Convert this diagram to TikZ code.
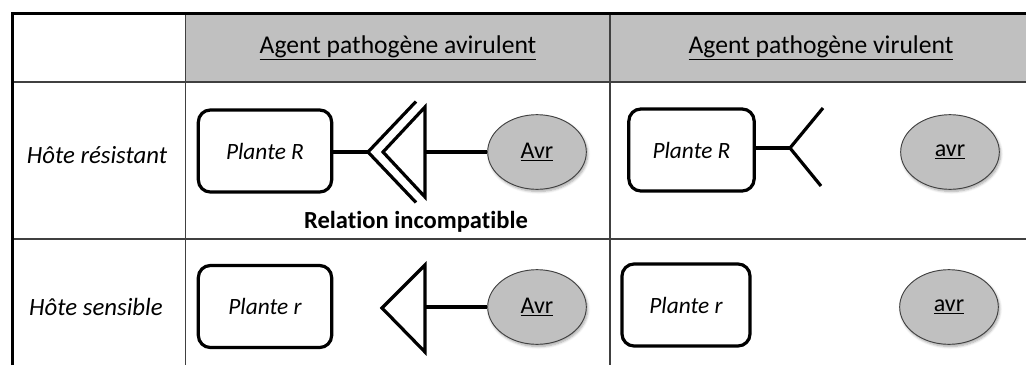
\documentclass[tikz,border=0pt]{standalone}
\usepackage{fontspec}
\setmainfont{Carlito}[Ligatures=NoCommon]
\usetikzlibrary{shapes.geometric,shadows.blur}
\definecolor{hdrgray}{HTML}{C0C0C0}
\definecolor{ellgray}{HTML}{C0C0C0}
\definecolor{rule}{HTML}{404040}
\tikzset{
  plantbox/.style={draw=black, line width=2.4pt, rounded corners=9pt, fill=white,
    minimum height=61.5pt, inner sep=0pt, font=\fontsize{17.5}{20}\selectfont\itshape},
  pathell/.style={ellipse, draw=rule, line width=0.7pt, fill=ellgray,
    minimum width=74pt, minimum height=56pt, inner sep=0pt,
    font=\fontsize{18}{20}\selectfont,
    blur shadow={shadow blur steps=6, shadow xshift=1pt, shadow yshift=-1.6pt, shadow opacity=35}},
  link/.style={line width=2.4pt, line cap=butt},
  glyph/.style={line width=2.4pt, line join=miter},
  hdr/.style={font=\fontsize{19.2}{22}\selectfont},
  rowlab/.style={font=\fontsize{18.6}{21}\selectfont\itshape},
  tline/.style={draw=rule, line width=1.2pt},
}
\begin{document}
\begin{tikzpicture}[x=0.75pt,y=-0.75pt]
\useasboundingbox (0,0) rectangle (1026,365);
% header background
\fill[hdrgray] (186,15) rectangle (1026,82);
% table rules
\draw[tline] (12,82) -- (1026,82);
\draw[tline] (12,239) -- (1026,239);
\draw[tline] (185.5,14) -- (185.5,365);
\draw[tline] (610,14) -- (610,365);
\draw[line width=2.4pt] (12.5,365) -- (12.5,13.5) -- (1026,13.5);
% headers
\node[hdr] (h1) at (398,48) {\underline{Agent pathogène avirulent}};
\node[hdr] (h2) at (821,48) {\underline{Agent pathogène virulent}};
\node[rowlab] (r1) at (97,155) {Hôte résistant};
\node[rowlab] (r2) at (96,307) {Hôte sensible};
% row 1, avirulent
\node[plantbox, minimum width=100pt] (b1) at (265,151) {Plante R};
\node[pathell] (e1) at (537,152) {\underline{Avr}};
\coordinate (c1apex) at (368,152);
\coordinate (c1top) at (416,101.5);
\coordinate (c1bot) at (416,202.5);
\coordinate (t1apex) at (383,152);
\coordinate (t1top) at (425,107);
\coordinate (t1bot) at (425,197);
\coordinate (t1mid) at (425,152);
\draw[link] (b1.east |- c1apex) -- (c1apex);
\draw[glyph] (c1top) -- (c1apex) -- (c1bot);
\draw[glyph] (t1top) -- (t1apex) -- (t1bot) -- cycle;
\draw[link] (t1mid) -- (e1.west);
\node[font=\fontsize{18.4}{21}\selectfont\bfseries] (rel) at (416,222) {Relation incompatible};
% row 1, virulent
\node[plantbox, minimum width=94pt] (b2) at (691.5,150) {Plante R};
\node[pathell] (e2) at (950,152) {\underline{avr}};
\coordinate (yfork) at (790,148);
\coordinate (ytop) at (823,108);
\coordinate (ybot) at (821,186);
\draw[link] (b2.east |- yfork) -- (yfork);
\draw[glyph] (ytop) -- (yfork) -- (ybot);
% row 2, avirulent
\node[plantbox, minimum width=100pt] (b3) at (265,306.5) {Plante r};
\node[pathell] (e3) at (537,307) {\underline{Avr}};
\coordinate (t3apex) at (382,308);
\coordinate (t3top) at (425,265);
\coordinate (t3bot) at (425,352);
\coordinate (t3mid) at (425,307);
\draw[glyph] (t3top) -- (t3apex) -- (t3bot) -- cycle;
\draw[link] (t3mid) -- (e3.west);
% row 2, virulent
\node[plantbox, minimum width=96pt] (b4) at (686,305) {Plante r};
\node[pathell] (e4) at (949,307) {\underline{avr}};
\end{tikzpicture}
\end{document}
